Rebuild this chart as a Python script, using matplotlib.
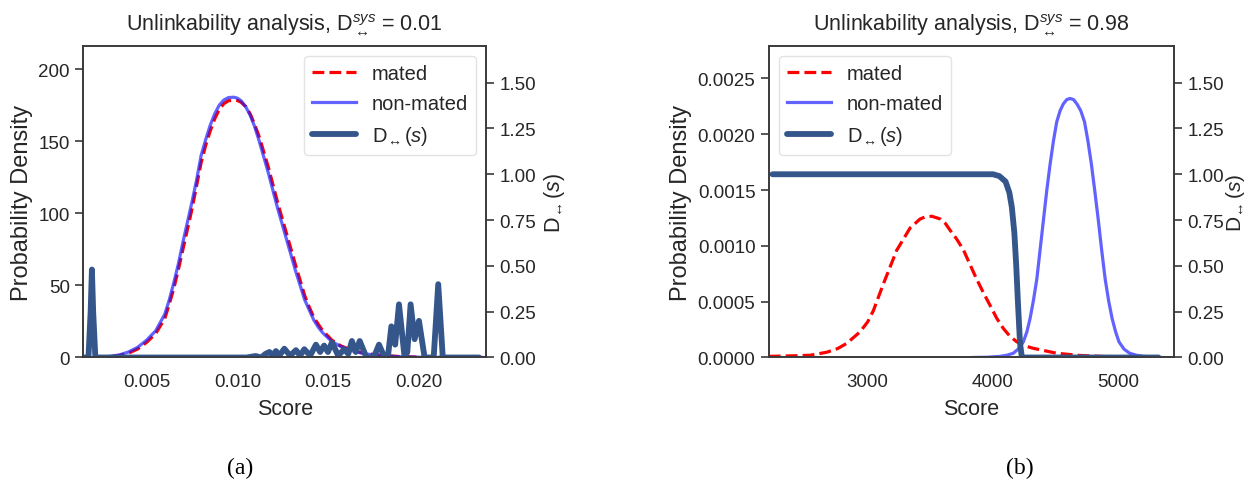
import numpy as np
import matplotlib
matplotlib.use("Agg")
import matplotlib.pyplot as plt
from matplotlib.ticker import FormatStrFormatter, MultipleLocator

plt.rcParams['font.family'] = ['Liberation Sans', 'DejaVu Sans']
plt.rcParams['mathtext.fontset'] = 'custom'
plt.rcParams['mathtext.rm'] = 'Liberation Sans'
plt.rcParams['mathtext.it'] = 'Liberation Sans:italic'
plt.rcParams['text.color'] = '#262626'
plt.rcParams['axes.labelcolor'] = '#262626'
plt.rcParams['xtick.color'] = '#262626'
plt.rcParams['ytick.color'] = '#262626'

# ---- panel (a): scores ~0.0015 .. 0.0237 ----
a_score = [0.0022, 0.0025, 0.0030, 0.0035, 0.0040, 0.0045, 0.0050, 0.0055, 0.0060,
           0.00625, 0.0065, 0.00675, 0.0070, 0.00725, 0.0075, 0.00775, 0.0080, 0.00825,
           0.0085, 0.00875, 0.0090, 0.00925, 0.0095, 0.0098, 0.0100, 0.0102, 0.01045,
           0.0107, 0.01095, 0.0112, 0.01145, 0.0117, 0.01195, 0.0122, 0.01245, 0.0127,
           0.01295, 0.0132, 0.01345, 0.0137, 0.01395, 0.0142, 0.01445, 0.0147, 0.0152,
           0.0157, 0.0162, 0.0170, 0.0180, 0.0190, 0.0200, 0.0215, 0.0235]
a_nonmated = [0.1, 0.3, 0.8, 1.8, 3.8, 7.0, 12, 18.5, 30, 40, 52, 65, 80, 94, 108, 123,
              140, 151, 161, 169, 175, 178.5, 180.2, 180.5, 179.8, 178, 174, 168, 160,
              150, 139, 128, 116, 104, 93, 82, 71, 60, 50, 40, 33, 26, 21, 17, 11, 7.5,
              5, 2.5, 1.2, 0.5, 0.2, 0.05, 0.0]
a_mated = [0.1, 0.2, 0.6, 1.4, 3.0, 5.8, 10.5, 16.5, 27, 37, 48, 61, 75, 89, 103, 119,
           135, 147, 157, 165.5, 172, 176, 178, 178.5, 178.2, 177, 174, 169, 161.5, 153,
           142.5, 132, 120, 108, 97, 86, 75, 64, 53.5, 43, 35, 28, 23, 18.5, 12, 8, 5.5,
           2.8, 1.4, 0.6, 0.25, 0.06, 0.0]

a_d_score = [0.00152, 0.00180, 0.00192, 0.00199, 0.00206, 0.00218, 0.0105, 0.0110, 0.0113,
             0.01155, 0.01176, 0.01194, 0.01212, 0.0123, 0.01258, 0.0129, 0.01322, 0.01345,
             0.01368, 0.0140, 0.01432, 0.01455, 0.01477, 0.01498, 0.0152, 0.01555, 0.01587,
             0.0161, 0.0163, 0.01651, 0.01673, 0.0171, 0.0175, 0.01779, 0.0181, 0.0183,
             0.01847, 0.01868, 0.01889, 0.0192, 0.01935, 0.01953, 0.01975, 0.01999, 0.0203,
             0.0208, 0.02105, 0.0213, 0.0233]
a_d = [0, 0, 0.25, 0.48, 0.25, 0, 0, 0.008, 0, 0.02, 0.03, 0.01, 0.035, 0.01, 0.048, 0.01,
       0.04, 0.01, 0.045, 0.01, 0.07, 0.03, 0.065, 0.03, 0.082, 0.01, 0.045, 0.02, 0.09,
       0.03, 0.09, 0, 0, 0.07, 0, 0.02, 0.17, 0.07, 0.29, 0, 0.03, 0.29, 0.1, 0.2, 0,
       0, 0.40, 0, 0]

# ---- panel (b): scores ~2200 .. 5450 ----
b_m_score = [2210, 2400, 2540, 2673, 2760, 2832, 2939, 3000, 3045, 3125, 3231, 3338, 3417,
             3460, 3511, 3580, 3620, 3657, 3710, 3763, 3817, 3870, 3923, 3977, 4030, 4082,
             4135, 4189, 4250, 4322, 4508, 4694, 4900, 5100, 5350]
b_mated = [0.1, 0.15, 0.2, 0.47, 0.8, 1.26, 2.3, 3.2, 4.2, 6.6, 9.6, 11.6, 12.4, 12.6,
           12.65, 12.4, 12.0, 11.4, 10.6, 9.65, 8.3, 7.0, 5.8, 4.65, 3.5, 2.6, 1.9, 1.41,
           1.05, 0.82, 0.38, 0.18, 0.08, 0.04, 0.02]
b_n_score = [3840, 3950, 4056, 4110, 4162, 4200, 4242, 4270, 4295, 4322, 4349, 4375, 4402,
             4428, 4455, 4482, 4508, 4535, 4560, 4588, 4615, 4642, 4670, 4700, 4730, 4757,
             4785, 4812, 4840, 4867, 4895, 4922, 4950, 4978, 5005, 5045, 5090, 5145, 5200,
             5300, 5350]
b_nonmated = [0.0, 0.02, 0.1, 0.2, 0.38, 0.75, 1.41, 2.3, 3.47, 5.1, 7.0, 9.6, 12.3, 14.9,
              17.3, 19.4, 21.1, 22.1, 22.7, 23.1, 23.2, 23.1, 22.7, 22.1, 21.1, 19.4, 17.3,
              14.9, 12.3, 9.6, 7.0, 5.1, 3.5, 2.3, 1.4, 0.75, 0.38, 0.2, 0.1, 0.02, 0.0]
b_d_score = [2240, 3000, 3500, 4000, 4050, 4100, 4130, 4150, 4170, 4185, 4200, 4215, 4230,
             4500, 5320]
b_d = [1.0, 1.0, 1.0, 1.0, 0.99, 0.96, 0.90, 0.82, 0.68, 0.50, 0.28, 0.08, 0.0, 0.0, 0.0]

RED = '#ff0000'
BLUE = '#2020ff'
DARK = '#34568b'
d_label = r'$\mathrm{D}_{\!\leftrightarrow}(s)$'


def style(ax):
    for sp in ax.spines.values():
        sp.set_color('#3a3a3a')
        sp.set_linewidth(1.2)
    ax.tick_params(axis='y', length=6, width=1.2, labelsize=13.5, colors='#3a3a3a',
                   labelcolor='#262626')
    ax.tick_params(axis='x', length=0, labelsize=13.5, pad=11)


fig = plt.figure(figsize=(12.5, 4.89), dpi=100)

# panel (a)
ax1 = fig.add_axes([0.0664, 0.2669, 0.3227, 0.637])
l1, = ax1.plot(a_score, a_mated, '--', color=RED, lw=2.3, label='mated')
l2, = ax1.plot(a_score, a_nonmated, color=BLUE, alpha=0.7, lw=2.3, label='non-mated')
ax1.set_xlim(0.0015, 0.0237)
ax1.set_ylim(0, 216)
ax1.yaxis.set_major_locator(MultipleLocator(50))
ax1.xaxis.set_major_locator(MultipleLocator(0.005))
ax1.xaxis.set_major_formatter(FormatStrFormatter('%.3f'))
ax1.set_xlabel('Score', fontsize=15.5, labelpad=6)
ax1.set_ylabel('Probability Density', fontsize=17)
ax1.set_title(r'Unlinkability analysis, D$^{sys}_{\leftrightarrow}$ = 0.01', fontsize=15.5, pad=12)
ax1b = ax1.twinx()
l3, = ax1b.plot(a_d_score, a_d, color=DARK, lw=4.2, solid_joinstyle='round',
                solid_capstyle='round', label=d_label)
ax1b.set_ylim(0, 1.7)
ax1b.yaxis.set_major_locator(MultipleLocator(0.25))
ax1b.yaxis.set_major_formatter(FormatStrFormatter('%.2f'))
ax1b.set_ylabel(d_label, fontsize=15.5, labelpad=4)
style(ax1)
style(ax1b)
ax1b.legend(handles=[l1, l2, l3], loc='upper right', fontsize=14.5, frameon=True,
            edgecolor='#dddddd', handlelength=2.2, labelspacing=0.55)

# panel (b)
ax2 = fig.add_axes([0.6149, 0.2669, 0.3243, 0.637])
m1, = ax2.plot(b_m_score, np.array(b_mated) * 1e-4, '--', color=RED, lw=2.3, label='mated')
m2, = ax2.plot(b_n_score, np.array(b_nonmated) * 1e-4, color=BLUE, alpha=0.7, lw=2.3,
               label='non-mated')
ax2.set_xlim(2209, 5444)
ax2.set_ylim(0, 0.00279)
ax2.yaxis.set_major_locator(MultipleLocator(0.0005))
ax2.yaxis.set_major_formatter(FormatStrFormatter('%.4f'))
ax2.xaxis.set_major_locator(MultipleLocator(1000))
ax2.set_xlabel('Score', fontsize=15.5, labelpad=6)
ax2.set_ylabel('Probability Density', fontsize=17)
ax2.set_title(r'Unlinkability analysis, D$^{sys}_{\leftrightarrow}$ = 0.98', fontsize=15.5, pad=12)
ax2b = ax2.twinx()
m3, = ax2b.plot(b_d_score, b_d, color=DARK, lw=4.2, solid_joinstyle='round',
                solid_capstyle='round', label=d_label)
ax2b.set_ylim(0, 1.7)
ax2b.yaxis.set_major_locator(MultipleLocator(0.25))
ax2b.yaxis.set_major_formatter(FormatStrFormatter('%.2f'))
ax2b.set_ylabel(d_label, fontsize=15, labelpad=0)
style(ax2)
style(ax2b)
ax2b.legend(handles=[m1, m2, m3], loc='upper left', fontsize=14.5, frameon=True,
            edgecolor='#dddddd', handlelength=2.2, labelspacing=0.55)

fig.text(0.192, 0.043, '(a)', fontsize=17, family='Liberation Serif', color='black',
         ha='center', va='center')
fig.text(0.816, 0.043, '(b)', fontsize=17, family='Liberation Serif', color='black',
         ha='center', va='center')

fig.savefig('out.png', dpi=100)
